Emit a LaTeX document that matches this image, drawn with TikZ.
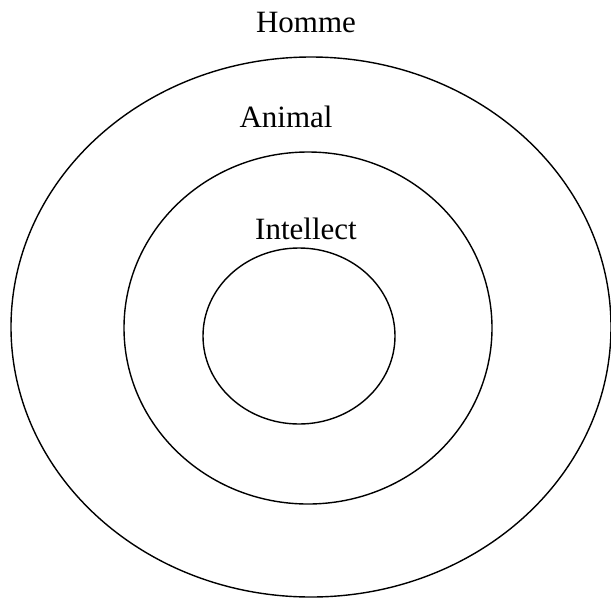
\documentclass[tikz,border=0pt]{standalone}
\usepackage{fontspec}
\setmainfont{Liberation Serif}
\begin{document}
\begin{tikzpicture}[x=1pt,y=-1pt,line width=1.4pt,
    lbl/.style={anchor=base,inner sep=0pt,font=\fontsize{31}{37}\selectfont}]
            \useasboundingbox (0,0) rectangle (611,598);
            \draw (311,327) ellipse [x radius=300, y radius=270];
            \draw (308,328) ellipse [x radius=184, y radius=176];
            \draw (299,336) ellipse [x radius=96, y radius=88];
            \path (306,32) node [lbl] (homme) {Homme};
            \path (286,127) node [lbl] (animal) {Animal};
            \path (306,239) node [lbl] (intellect) {Intellect};
        \end{tikzpicture}
\end{document}
